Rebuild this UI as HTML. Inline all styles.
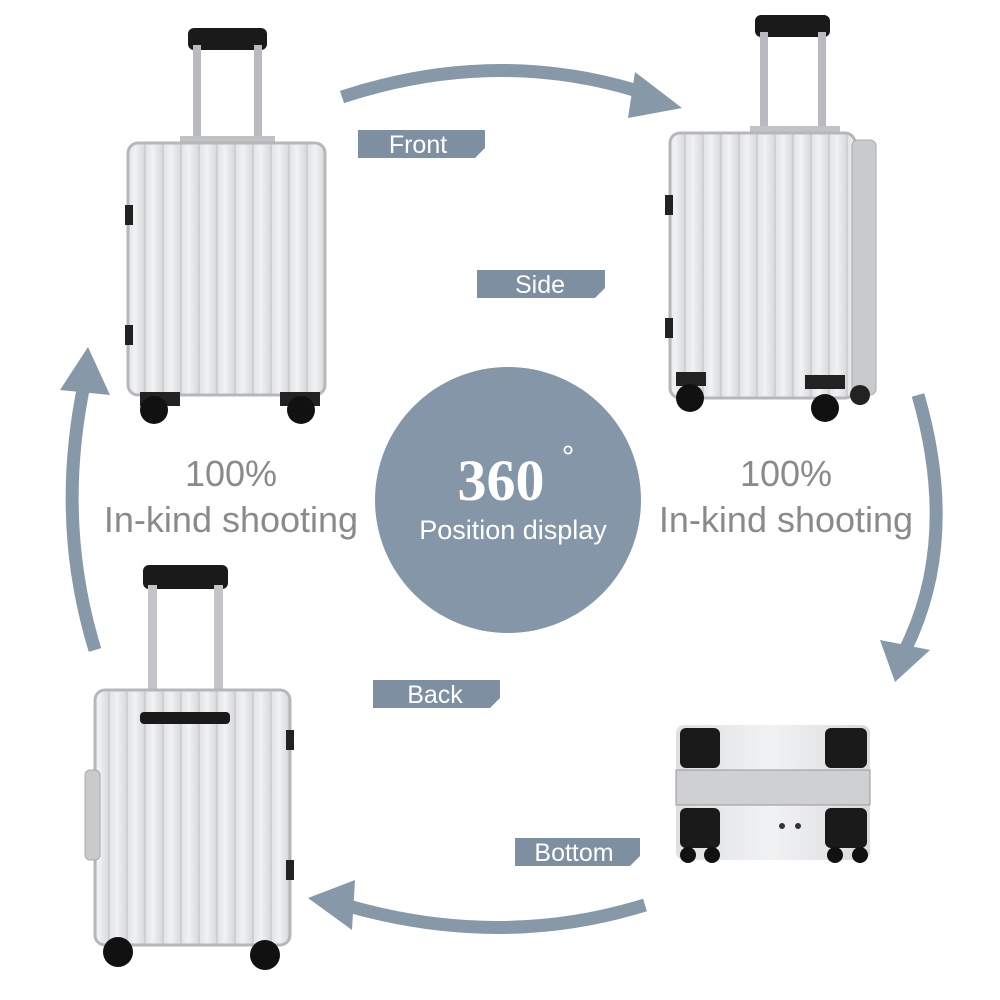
<!DOCTYPE html>
<html><head><meta charset="utf-8"><style>
html,body{margin:0;padding:0;background:#fff}
svg{display:block}
</style></head><body>
<svg width="1000" height="1000" viewBox="0 0 1000 1000" xmlns="http://www.w3.org/2000/svg" font-family="Liberation Sans, sans-serif">
<defs>
<linearGradient id="body" x1="0" x2="1"><stop offset="0" stop-color="#dfe0e2"/><stop offset="0.5" stop-color="#f1f2f3"/><stop offset="1" stop-color="#d9dadc"/></linearGradient>
<pattern id="rib" width="18" height="10" patternUnits="userSpaceOnUse"><rect width="18" height="10" fill="url(#body)"/><rect x="0" width="2" height="10" fill="#cfd0d3"/></pattern>
</defs>
<rect width="1000" height="1000" fill="#fff"/>

<g fill="none" stroke="#8798a9" stroke-width="13">
<path d="M342 97 Q500 45 650 95"/>
<path d="M918 395 Q960 540 905 650"/>
<path d="M645 905 Q500 950 345 905"/>
<path d="M95 650 Q55 520 85 380"/>
</g>
<g fill="#8798a9">
<polygon points="635,72 682,108 628,118"/>
<polygon points="880,640 895,682 930,650"/>
<polygon points="355,880 308,898 352,930"/>
<polygon points="60,390 88,347 110,395"/>
</g>

<circle cx="508" cy="500" r="133" fill="#8496a8"/>
<text x="501" y="500" font-family="Liberation Serif, serif" font-weight="bold" font-size="58" fill="#fff" text-anchor="middle">360</text>
<text x="568" y="468" font-size="32" fill="#fff" text-anchor="middle">°</text>
<text x="513" y="539" font-size="27" fill="#fff" text-anchor="middle">Position display</text>

<g fill="#8a8a8a" text-anchor="middle" font-size="36">
<text x="231" y="486">100%</text>
<text x="231" y="532">In-kind shooting</text>
<text x="786" y="486">100%</text>
<text x="786" y="532">In-kind shooting</text>
</g>

<g fill="#7d8fa1">
<polygon points="358,130 485,130 485,148 475,158 358,158"/>
<polygon points="477,270 605,270 605,288 595,298 477,298"/>
<polygon points="373,680 500,680 500,698 490,708 373,708"/>
<polygon points="515,838 640,838 640,856 630,866 515,866"/>
</g>
<g fill="#fff" font-size="25" text-anchor="middle">
<text x="418" y="153">Front</text>
<text x="540" y="293">Side</text>
<text x="435" y="703">Back</text>
<text x="574" y="861">Bottom</text>
</g>

<g>
<rect x="188" y="28" width="79" height="22" rx="6" fill="#1a1a1a"/>
<rect x="193" y="45" width="8" height="100" fill="#b8babd"/>
<rect x="254" y="45" width="8" height="100" fill="#b8babd"/>
<rect x="180" y="136" width="95" height="10" fill="#c0c2c4"/>
<rect x="128" y="143" width="197" height="252" rx="10" fill="url(#rib)" stroke="#b5b7ba" stroke-width="3"/>
<rect x="125" y="205" width="8" height="20" fill="#222"/><rect x="125" y="325" width="8" height="20" fill="#222"/>
<rect x="140" y="392" width="40" height="14" fill="#222"/><rect x="280" y="392" width="40" height="14" fill="#222"/>
<circle cx="154" cy="410" r="14" fill="#111"/><circle cx="301" cy="410" r="14" fill="#111"/>
</g>
<g>
<rect x="755" y="15" width="75" height="22" rx="6" fill="#1a1a1a"/>
<rect x="760" y="32" width="8" height="100" fill="#b8babd"/>
<rect x="818" y="32" width="8" height="100" fill="#b8babd"/>
<rect x="750" y="126" width="90" height="10" fill="#c0c2c4"/>
<rect x="670" y="133" width="185" height="265" rx="10" fill="url(#rib)" stroke="#b5b7ba" stroke-width="3"/>
<rect x="852" y="140" width="24" height="255" rx="6" fill="#c9cacc" stroke="#aaa"/>
<rect x="665" y="195" width="8" height="20" fill="#222"/><rect x="665" y="318" width="8" height="20" fill="#222"/>
<rect x="676" y="372" width="30" height="14" fill="#222"/><rect x="805" y="375" width="40" height="14" fill="#222"/>
<circle cx="690" cy="398" r="14" fill="#111"/><circle cx="825" cy="408" r="14" fill="#111"/><circle cx="860" cy="395" r="10" fill="#222"/>
</g>
<g>
<rect x="143" y="565" width="85" height="24" rx="6" fill="#1a1a1a"/>
<rect x="148" y="585" width="9" height="135" fill="#c3c5c8"/>
<rect x="214" y="585" width="9" height="135" fill="#c3c5c8"/>
<rect x="95" y="690" width="195" height="255" rx="10" fill="url(#rib)" stroke="#b5b7ba" stroke-width="3"/>
<rect x="140" y="712" width="90" height="12" rx="4" fill="#1a1a1a"/>
<rect x="85" y="770" width="15" height="90" rx="5" fill="#c9cacc" stroke="#aaa"/>
<rect x="286" y="730" width="8" height="20" fill="#222"/><rect x="286" y="860" width="8" height="20" fill="#222"/>
<circle cx="118" cy="952" r="15" fill="#111"/><circle cx="265" cy="955" r="15" fill="#111"/>
</g>
<g>
<rect x="676" y="725" width="194" height="135" rx="8" fill="url(#body)"/>
<rect x="676" y="770" width="194" height="35" fill="#cfd0d2" stroke="#999"/>
<rect x="680" y="728" width="40" height="40" rx="6" fill="#1a1a1a"/>
<rect x="825" y="728" width="42" height="40" rx="6" fill="#1a1a1a"/>
<rect x="680" y="808" width="40" height="40" rx="6" fill="#1a1a1a"/>
<rect x="825" y="808" width="42" height="40" rx="6" fill="#1a1a1a"/>
<circle cx="688" cy="855" r="8" fill="#111"/><circle cx="712" cy="855" r="8" fill="#111"/>
<circle cx="835" cy="855" r="8" fill="#111"/><circle cx="860" cy="855" r="8" fill="#111"/>
<circle cx="782" cy="826" r="3" fill="#333"/><circle cx="798" cy="826" r="3" fill="#333"/>
</g>
</svg>
</body></html>
